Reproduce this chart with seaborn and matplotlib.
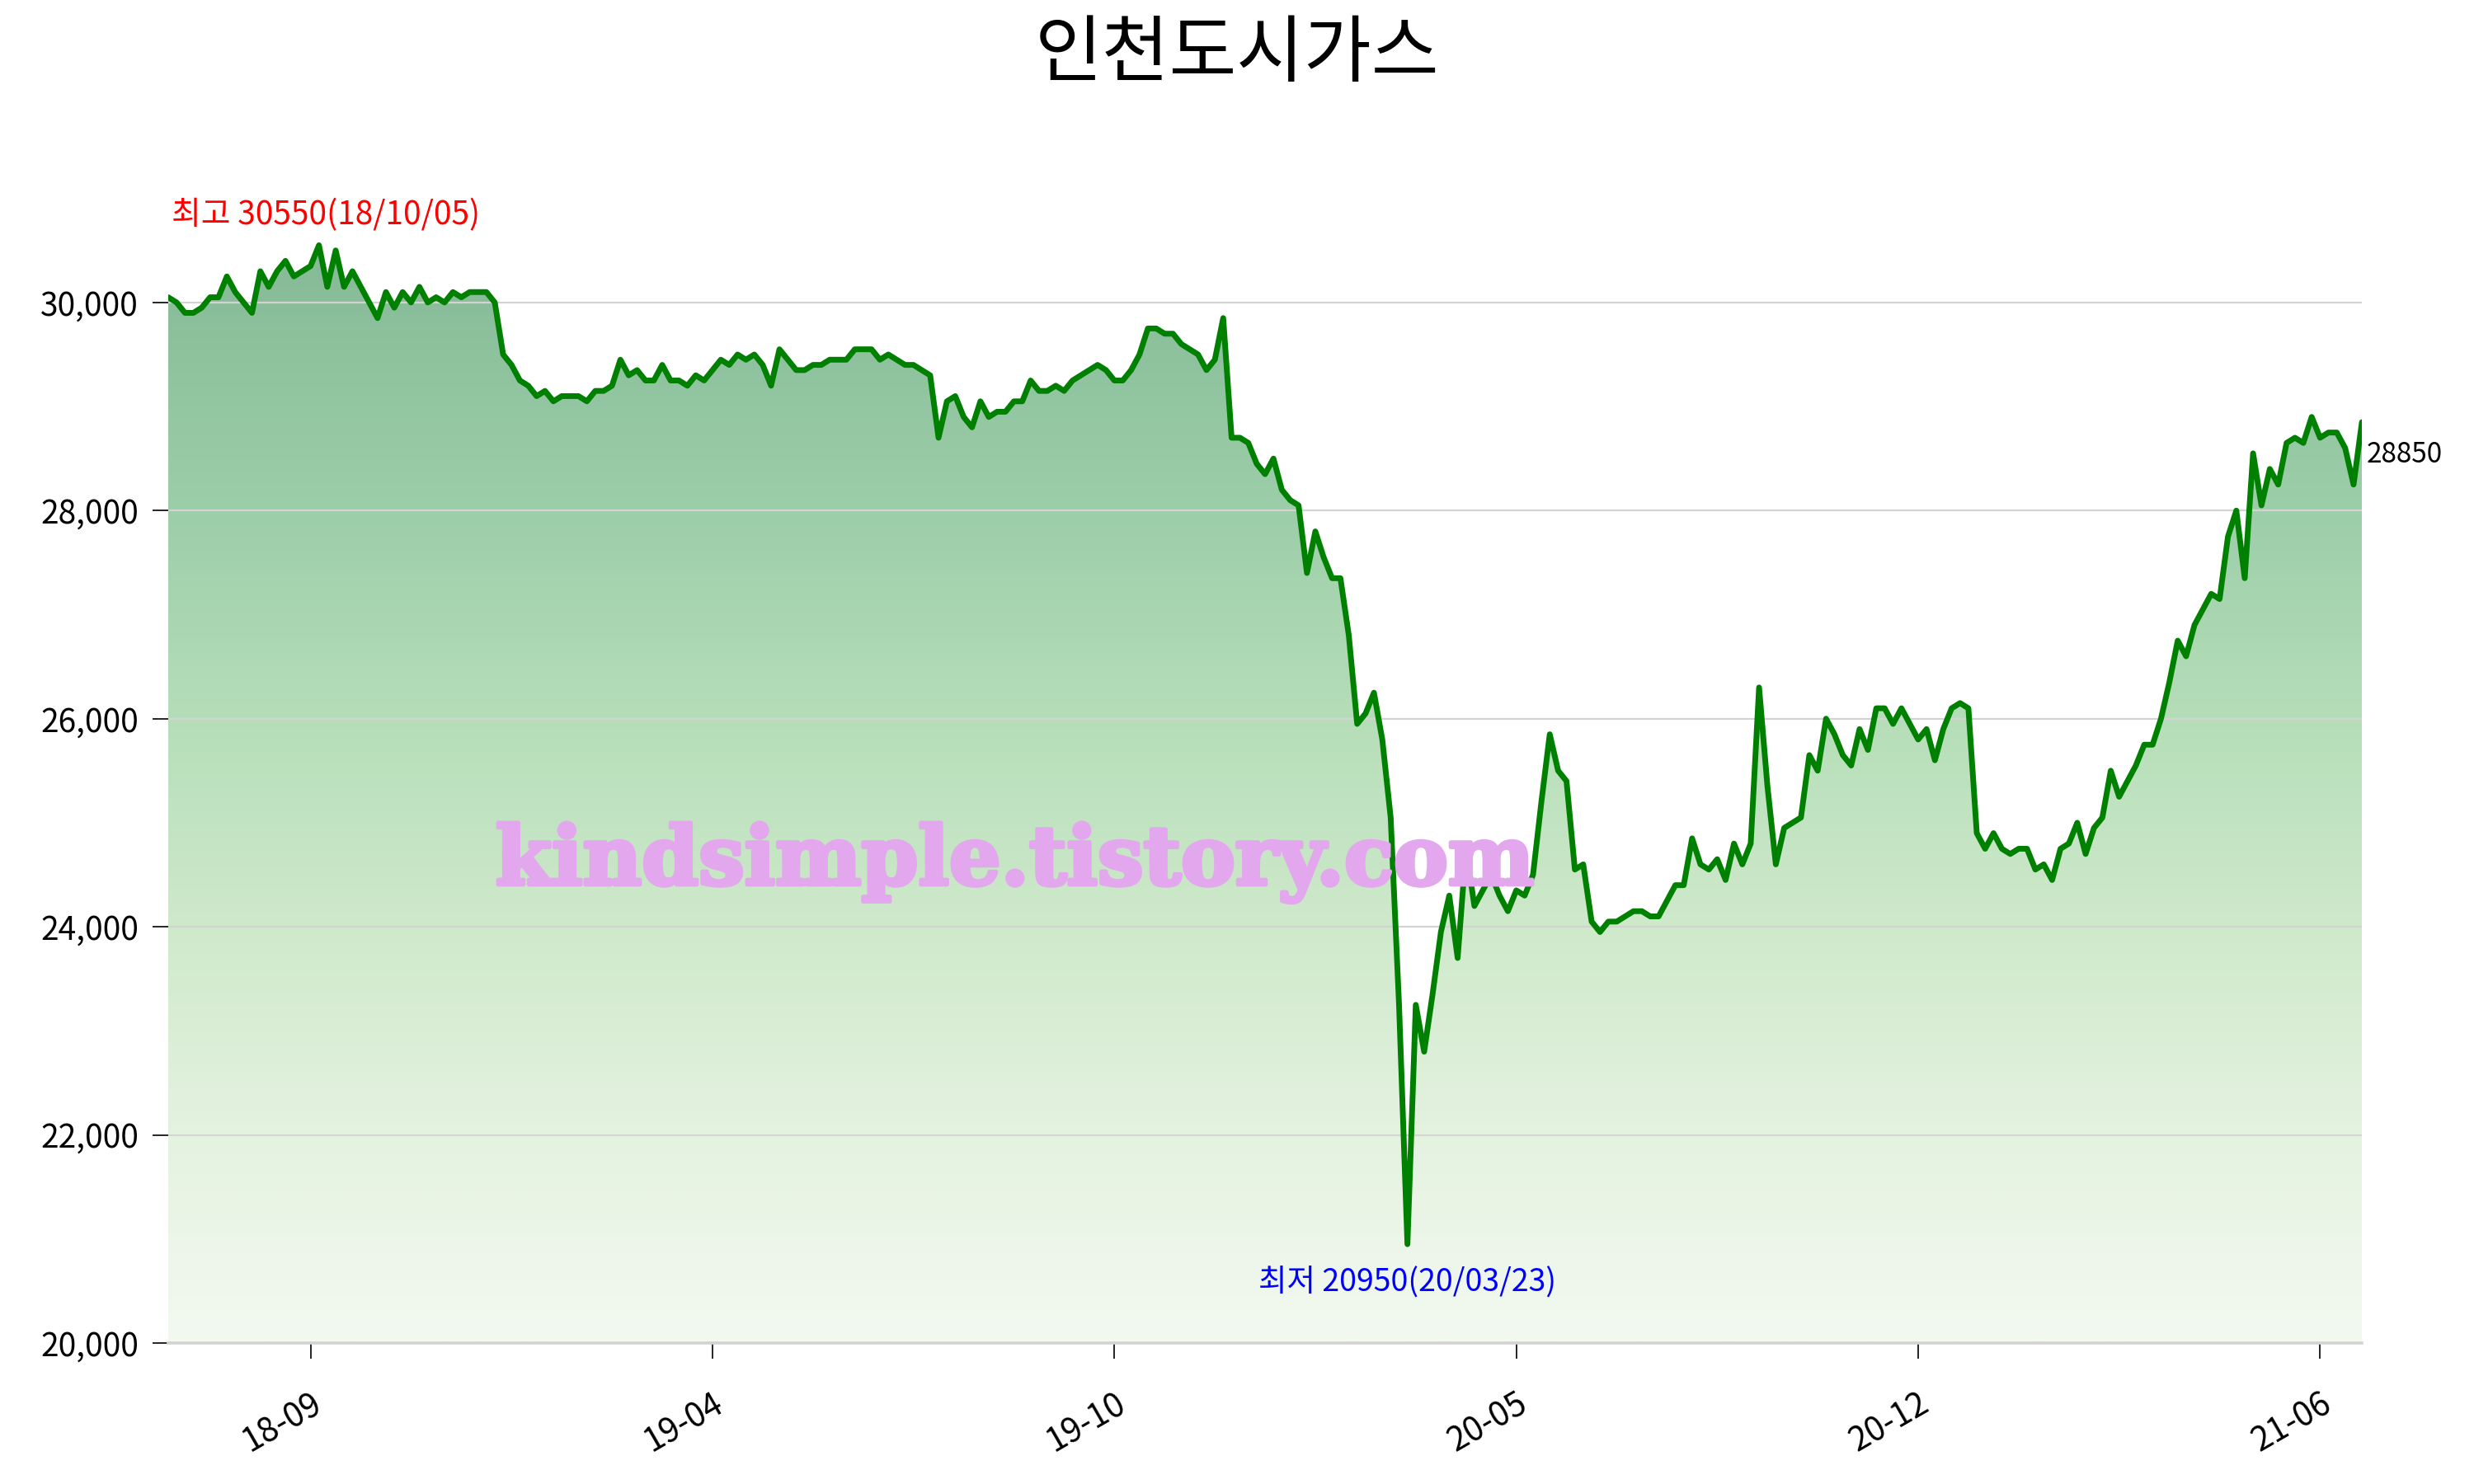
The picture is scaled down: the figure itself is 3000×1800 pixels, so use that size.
import numpy as np
import pandas as pd
import matplotlib
matplotlib.use("Agg")
import matplotlib.pyplot as plt
import matplotlib.patheffects as pe
from matplotlib.colors import LinearSegmentedColormap, Normalize
from matplotlib.ticker import FuncFormatter
import seaborn as sns

# -------------------------------
# data
# -------------------------------
title = "인천도시가스"
high_date = "18/10/05"
low_date = "20/03/23"
watermark = "kindsimple.tistory.com"

prices = [
    30050, 30000, 29900, 29900, 29950, 30050, 30050, 30250, 30100, 30000,
    29900, 30300, 30150, 30300, 30400, 30250, 30300, 30350, 30550, 30150,
    30500, 30150, 30300, 30150, 30000, 29850, 30100, 29950, 30100, 30000,
    30150, 30000, 30050, 30000, 30100, 30050, 30100, 30100, 30100, 30000,
    29500, 29400, 29250, 29200, 29100, 29150, 29050, 29100, 29100, 29100,
    29050, 29150, 29150, 29200, 29450, 29300, 29350, 29250, 29250, 29400,
    29250, 29250, 29200, 29300, 29250, 29350, 29450, 29400, 29500, 29450,
    29500, 29400, 29200, 29550, 29450, 29350, 29350, 29400, 29400, 29450,
    29450, 29450, 29550, 29550, 29550, 29450, 29500, 29450, 29400, 29400,
    29350, 29300, 28700, 29050, 29100, 28900, 28800, 29050, 28900, 28950,
    28950, 29050, 29050, 29250, 29150, 29150, 29200, 29150, 29250, 29300,
    29350, 29400, 29350, 29250, 29250, 29350, 29500, 29750, 29750, 29700,
    29700, 29600, 29550, 29500, 29350, 29450, 29850, 28700, 28700, 28650,
    28450, 28350, 28500, 28200, 28100, 28050, 27400, 27800, 27550, 27350,
    27350, 26800, 25950, 26050, 26250, 25800, 25050, 23250, 20950, 23250,
    22800, 23350, 23950, 24300, 23700, 24750, 24200, 24350, 24500, 24300,
    24150, 24350, 24300, 24500, 25200, 25850, 25500, 25400, 24550, 24600,
    24050, 23950, 24050, 24050, 24100, 24150, 24150, 24100, 24100, 24250,
    24400, 24400, 24850, 24600, 24550, 24650, 24450, 24800, 24600, 24800,
    26300, 25350, 24600, 24950, 25000, 25050, 25650, 25500, 26000, 25850,
    25650, 25550, 25900, 25700, 26100, 26100, 25950, 26100, 25950, 25800,
    25900, 25600, 25900, 26100, 26150, 26100, 24900, 24750, 24900, 24750,
    24700, 24750, 24750, 24550, 24600, 24450, 24750, 24800, 25000, 24700,
    24950, 25050, 25500, 25250, 25400, 25550, 25750, 25750, 26000, 26350,
    26750, 26600, 26900, 27050, 27200, 27150, 27750, 28000, 27350, 28550,
    28050, 28400, 28250, 28650, 28700, 28650, 28900, 28700, 28750, 28750,
    28600, 28250, 28850,
]

tick_idx = [17, 65, 113, 161, 209, 257]
tick_labels = ["18-09", "19-04", "19-10", "20-05", "20-12", "21-06"]
y_ticks = [20000, 22000, 24000, 26000, 28000, 30000]

# fill colour at a given price level
fill_levels = [20000, 22000, 24000, 26000, 28000, 30000, 31000]
fill_colors = ["#f3f9f0", "#e4f2e0", "#cfe9cb", "#b5deb8", "#9ccea9", "#8abe9a", "#84b894"]

# -------------------------------
# setup
# -------------------------------
sns.set_theme(style="white")
plt.rcParams["font.family"] = ["Noto Sans CJK KR", "DejaVu Sans"]

df = pd.DataFrame({"idx": np.arange(len(prices)), "price": prices})
n = len(df)
y_lo, y_hi = 20000, 31000

fig = plt.figure(figsize=(15, 9), dpi=200)
ax = fig.add_axes([0.068, 0.095, 0.8867, 0.7713])
ax.set_xlim(0, n - 1)
ax.set_ylim(y_lo, y_hi)

# -------------------------------
# gradient area under the line
# -------------------------------
pos = [(v - y_lo) / (y_hi - y_lo) for v in fill_levels]
cmap = LinearSegmentedColormap.from_list("area", list(zip(pos, fill_colors)))
area = ax.fill_between(df["idx"], df["price"], y_lo, color="none", lw=0)
grad = np.linspace(y_lo, y_hi, 600).reshape(-1, 1)
im = ax.imshow(grad, cmap=cmap, norm=Normalize(y_lo, y_hi), origin="lower",
               extent=[0, n - 1, y_lo, y_hi], aspect="auto", zorder=1)
im.set_clip_path(area.get_paths()[0], transform=ax.transData)

sns.lineplot(data=df, x="idx", y="price", color="#008000", linewidth=2.5,
             ax=ax, zorder=3)

# -------------------------------
# axes styling
# -------------------------------
ax.set_xlabel("")
ax.set_ylabel("")
ax.set_axisbelow("line")
ax.yaxis.grid(True, color="#d3d3d3", linewidth=0.8)
ax.xaxis.grid(False)
for side in ["left", "top", "right"]:
    ax.spines[side].set_visible(False)
ax.spines["bottom"].set_color("#d3d3d3")
ax.spines["bottom"].set_linewidth(1.3)

ax.set_yticks(y_ticks)
ax.yaxis.set_major_formatter(FuncFormatter(lambda v, _: f"{int(v):,}"))
ax.set_xticks(tick_idx)
ax.set_xticklabels(tick_labels, rotation=30, ha="right", rotation_mode="anchor")
ax.tick_params(axis="both", bottom=True, left=True, length=7, width=0.6,
               color="black", labelsize=14, labelcolor="black")
ax.tick_params(axis="y", pad=6)
ax.tick_params(axis="x", pad=12, labelsize=14.5)

# -------------------------------
# annotations
# -------------------------------
imax = int(np.argmax(prices))
imin = int(np.argmin(prices))
ax.annotate(f"최고 {prices[imax]}({high_date})", xy=(imax, prices[imax]),
            xytext=(3, 6), textcoords="offset points", ha="center", va="bottom",
            color="red", fontsize=14)
ax.annotate(f"최저 {prices[imin]}({low_date})", xy=(imin, prices[imin]),
            xytext=(0, -10), textcoords="offset points", ha="center", va="top",
            color="blue", fontsize=13.5)
ax.annotate(f"{prices[-1]}", xy=(n - 1, prices[-1]), xytext=(2, -8),
            textcoords="offset points", ha="left", va="top", fontsize=12,
            color="black", annotation_clip=False)

ax.text(0.386, 0.42, watermark, transform=ax.transAxes, ha="center", va="center",
        fontsize=35.5, fontweight="bold", family="DejaVu Serif", color="#e3a7ee",
        zorder=4,
        path_effects=[pe.withStroke(linewidth=1.8, foreground="#e3a7ee")])

fig.suptitle(title, y=0.963, va="center", fontsize=32, color="black")

fig.savefig("out.png", dpi=200)
